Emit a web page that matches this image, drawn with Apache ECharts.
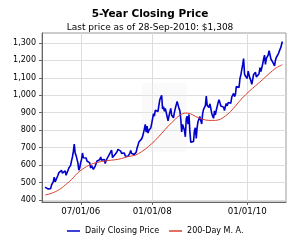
<!DOCTYPE html>
<html>
<head>
<meta charset="utf-8">
<script src="https://cdn.jsdelivr.net/npm/echarts@6/dist/echarts.min.js"></script>
<style>html,body{margin:0;padding:0;background:#fff;}#c{width:300px;height:244px;}</style>
</head>
<body>
<div id="c"></div>
<script>
const titleText = '5-Year Closing Price';
const subtitleText = 'Last price as of 28-Sep-2010: $1,308';
const seriesNames = ['Daily Closing Price', '200-Day M. A.'];

// Weekly closing prices (Fridays), one array per year
const weekStarts = [[2005, 9, 30], [2006, 1, 6], [2007, 1, 5], [2008, 1, 4], [2009, 1, 2], [2010, 1, 1]];
const close2005 = [473, 468, 472, 463, 470, 460, 464, 485, 494, 505, 530, 503, 502, 513];
const close2006 = [540, 555, 560, 566, 570, 553, 555, 557, 566, 541, 554, 557, 582, 593, 598, 624, 646, 678, 720, 668, 655,
  644, 612, 570, 583, 613, 630, 669, 642, 634, 650, 640, 623, 621, 626, 612, 583, 597, 599, 575, 586, 594, 597,
  623, 620, 620, 630, 646, 628, 620, 621, 632];
const close2007 = [609, 626, 630, 646, 655, 666, 664, 685, 643, 653, 652, 662, 663, 676, 690, 686, 679, 680, 667, 660, 656,
  669, 652, 654, 656, 650, 660, 667, 683, 666, 673, 677, 661, 668, 673, 697, 714, 732, 743, 735, 750, 763, 784,
  806, 833, 788, 823, 783, 799, 794, 812, 836];
const close2008 = [865, 895, 880, 914, 910, 918, 907, 944, 975, 970, 1000, 921, 934, 908, 925, 915, 878, 853, 880, 885, 925, 885,
  890, 871, 902, 925, 932, 965, 958, 925, 912, 864, 790, 833, 833, 800, 762, 865, 880, 835, 890, 790, 730, 725,
  740, 735, 797, 814, 752, 818, 850, 859];
const close2009 = [878, 853, 835, 895, 919, 913, 940, 995, 942, 938, 930, 951, 924, 896, 880, 868, 910, 887, 914, 925, 958, 975,
  958, 938, 934, 940, 932, 912, 937, 952, 939, 958, 947, 952, 955, 990, 1000, 1011, 992, 1004, 1050, 1052, 1057, 1045,
  1096, 1117, 1147, 1175, 1210, 1123, 1110, 1104];
const close2010 = [1096, 1138, 1140, 1097, 1083, 1063, 1090, 1119, 1108, 1132, 1105, 1108, 1100, 1124, 1158, 1136, 1143, 1180,
  1208, 1230, 1177, 1212, 1218, 1230, 1256, 1256, 1208, 1204, 1190, 1191, 1169, 1201, 1218, 1229, 1236, 1250, 1246, 1276, 1297];
const lastDate = '2010-09-28';
const lastClose = 1308;

// 200-day moving average
const maDates = ['2005-10-01', '2005-11-01', '2005-12-02', '2006-01-02', '2006-02-02', '2006-03-04', '2006-04-04', '2006-05-05',
  '2006-06-05', '2006-07-06', '2006-08-14', '2006-09-21', '2006-10-30', '2006-12-08', '2007-01-28', '2007-03-21',
  '2007-05-11', '2007-07-02', '2007-08-23', '2007-10-13', '2007-12-04', '2008-01-24', '2008-03-16', '2008-05-06',
  '2008-06-27', '2008-08-04', '2008-09-12', '2008-10-21', '2008-11-28', '2009-01-19', '2009-03-12', '2009-05-02',
  '2009-06-10', '2009-07-18', '2009-08-26', '2009-10-04', '2009-11-24', '2010-01-15', '2010-03-07', '2010-04-28',
  '2010-06-18', '2010-08-09', '2010-09-28'];
const maValues = [428, 434, 442, 453, 467, 486, 505, 528, 553, 572, 591, 605, 614, 620, 626, 630, 637, 649, 656, 677, 706, 741,
  783, 825, 863, 888, 898, 894, 879, 863, 856, 856, 863, 882, 907, 940, 984, 1022, 1055, 1089, 1124, 1156, 1175];

// Axis ticks
const xTickDates = ['2006-07-01', '2008-01-01', '2010-01-01'];
const yTicks = [400, 500, 600, 700, 800, 900, 1000, 1100, 1200, 1300];
const xMin = '2005-09-06', xMax = '2010-10-26';
const yMin = 388, yMax = 1357;

function parseD(s) { const p = s.split('-').map(Number); return new Date(p[0], p[1] - 1, p[2]).getTime(); }
const yearly = [close2005, close2006, close2007, close2008, close2009, close2010];
const closeData = [];
yearly.forEach((arr, k) => {
  const s = weekStarts[k];
  arr.forEach((v, i) => closeData.push([new Date(s[0], s[1] - 1, s[2] + 7 * i).getTime(), v]));
});
closeData.push([parseD(lastDate), lastClose]);
const maData = maDates.map((d, i) => [parseD(d), maValues[i]]);
const xTicks = xTickDates.map(parseD);
function pad(n) { return (n < 10 ? '0' : '') + n; }

const FONT = 'DejaVu Sans';
const chart = echarts.init(document.getElementById('c'), null, { renderer: 'canvas' });
chart.setOption({
  animation: false,
  backgroundColor: '#fff',
  title: [
    { text: titleText, left: 'center', top: 4, textStyle: { fontFamily: FONT, fontSize: 10.5, fontWeight: 'bold', color: '#000' } },
    { text: subtitleText, left: 'center', top: 18, textStyle: { fontFamily: FONT, fontSize: 9, fontWeight: 'normal', color: '#000' } }
  ],
  legend: {
    left: 62, top: 222, itemWidth: 13, itemHeight: 1.5, itemGap: 10, icon: 'rect',
    textStyle: { fontFamily: FONT, fontSize: 8, color: '#000' },
    data: seriesNames
  },
  grid: { left: 42, right: 14, top: 33, bottom: 42, show: true, borderColor: '#999', borderWidth: 1, backgroundColor: '#fff' },
  xAxis: {
    type: 'value', min: parseD(xMin), max: parseD(xMax), scale: true,
    axisLine: { lineStyle: { color: '#666' } },
    axisTick: { show: true, length: 3, lineStyle: { color: '#666' }, customValues: xTicks },
    axisLabel: {
      customValues: xTicks, fontFamily: FONT, fontSize: 8.7, color: '#000', margin: 5,
      formatter: v => { const d = new Date(v); return pad(d.getMonth() + 1) + '/' + pad(d.getDate()) + '/' + pad(d.getFullYear() % 100); }
    },
    splitLine: { show: true, lineStyle: { color: '#ddd', width: 1 } }
  },
  yAxis: {
    type: 'value', min: yMin, max: yMax,
    axisLine: { show: true, lineStyle: { color: '#666' } },
    axisTick: { show: true, length: 3, lineStyle: { color: '#666' }, customValues: yTicks },
    axisLabel: {
      customValues: yTicks, fontFamily: FONT, fontSize: 8, color: '#000', margin: 6,
      formatter: v => v.toLocaleString('en-US')
    },
    splitLine: { show: true, lineStyle: { color: '#ddd', width: 1 } }
  },
  graphic: [{ type: 'rect', z: 1, shape: { x: 142, y: 83, width: 45, height: 69, r: 3 }, style: { fill: 'rgba(240,240,240,0.3)' } }],
  series: [
    { name: seriesNames[0], type: 'line', data: closeData, showSymbol: false, symbol: 'none', z: 3,
      lineStyle: { color: '#0000cc', width: 1.6 }, itemStyle: { color: '#0000cc' } },
    { name: seriesNames[1], type: 'line', data: maData, showSymbol: false, symbol: 'none', smooth: 0.3, z: 4,
      lineStyle: { color: '#d8402f', width: 1 }, itemStyle: { color: '#d8402f' } }
  ]
});
</script>
</body>
</html>
